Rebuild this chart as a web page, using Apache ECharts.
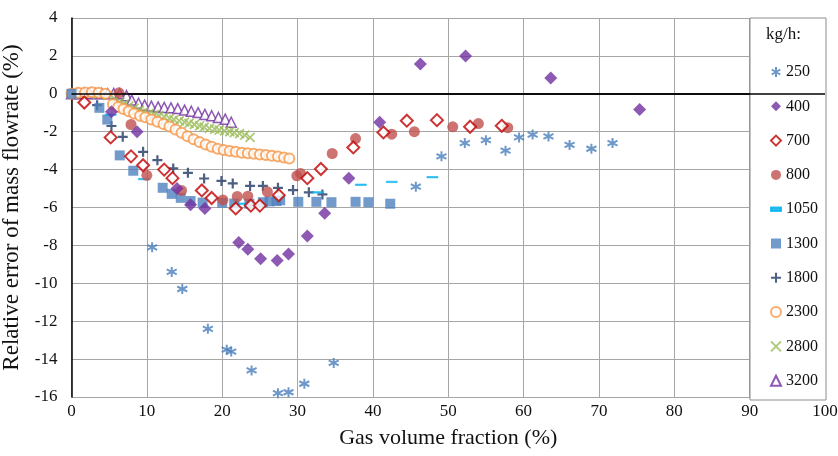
<!DOCTYPE html>
<html><head><meta charset="utf-8">
<script src="https://cdn.jsdelivr.net/npm/echarts@6/dist/echarts.min.js"></script>
<style>html,body{margin:0;padding:0;background:#fff}#c{width:838px;height:456px}</style>
</head><body><div id="c"></div>
<script>
const xTicks = [0,10,20,30,40,50,60,70,80,90,100];
const yTicks = [-16,-14,-12,-10,-8,-6,-4,-2,0,2,4];
const seriesNames = ['250','400','700','800','1050','1300','1800','2300','2800','3200'];

const x250 = [10.7,13.3,14.7,18.1,20.6,21.2,23.9,27.4,28.8,30.9,34.8,45.7,49.1,52.2,55.0,57.6,59.4,61.2,63.3,66.1,69.0,71.8];
const y250 = [-8.1,-9.4,-10.3,-12.4,-13.5,-13.6,-14.6,-15.8,-15.75,-15.3,-14.2,-4.9,-3.3,-2.6,-2.45,-3.0,-2.3,-2.15,-2.25,-2.7,-2.9,-2.6];

const x400 = [5.3,8.7,14.0,15.8,17.7,22.2,23.4,25.1,27.3,28.8,31.3,33.6,36.8,40.9,46.3,52.3,63.6,75.4];
const y400 = [-0.95,-2.0,-5.0,-5.85,-6.05,-7.85,-8.2,-8.7,-8.8,-8.45,-7.5,-6.3,-4.45,-1.5,1.57,2.0,0.83,-0.83];

const x700 = [1.7,5.2,7.9,9.5,12.3,13.4,17.3,18.6,21.8,23.8,25.0,27.5,31.3,33.1,37.4,41.4,44.5,48.5,52.9,57.1];
const y700 = [-0.46,-2.3,-3.3,-3.77,-4.0,-4.45,-5.1,-5.5,-6.05,-5.9,-5.9,-5.35,-4.45,-3.97,-2.83,-2.04,-1.42,-1.39,-1.74,-1.69];

const x800 = [6.3,7.9,10.0,14.6,20.1,22.0,23.4,26.0,29.9,30.4,34.6,37.7,42.5,45.5,50.6,54.0,57.9];
const y800 = [0.05,-1.62,-4.3,-5.1,-5.6,-5.42,-5.4,-5.17,-4.33,-4.2,-3.15,-2.36,-2.13,-2.0,-1.74,-1.57,-1.79];

const x1050 = [5.2,9.6,22.4,32.7,38.4,42.5,47.9];
const y1050 = [-1.1,-4.5,-5.8,-5.2,-4.8,-4.65,-4.4];

const x1300 = [0,3.7,4.75,6.4,8.2,12.1,13.3,14.5,15.8,17.4,20.0,21.6,23.6,25.4,26.3,27.2,27.7,30.1,32.5,34.5,37.7,39.4,42.3];
const y1300 = [0,-0.74,-1.36,-3.25,-4.06,-4.96,-5.28,-5.49,-5.66,-5.74,-5.75,-5.79,-5.8,-5.72,-5.68,-5.66,-5.62,-5.7,-5.7,-5.72,-5.7,-5.72,-5.8];

const x1800 = [3.4,5.3,6.8,9.5,11.4,13.5,15.45,17.6,19.9,21.4,23.7,25.4,27.4,29.4,31.5,33.3];
const y1800 = [-0.6,-1.7,-2.27,-3.06,-3.5,-3.94,-4.17,-4.47,-4.6,-4.73,-4.86,-4.86,-4.96,-5.08,-5.2,-5.31];

const x2300 = [0,0.9,1.8,2.7,3.6,4.5,5.5,6.2,6.9,7.6,8.3,9.1,9.8,10.6,11.4,12.2,13.0,13.8,14.6,15.4,16.2,17.0,17.8,18.6,19.4,20.2,21.0,21.8,22.6,23.4,24.2,25.0,25.8,26.6,27.4,28.2,28.9];
const y2300 = [0,0.05,0.07,0.08,0.06,0,-0.55,-0.7,-0.8,-0.92,-1.04,-1.16,-1.24,-1.35,-1.47,-1.6,-1.72,-1.88,-2.05,-2.24,-2.4,-2.55,-2.68,-2.8,-2.9,-2.97,-3.02,-3.06,-3.11,-3.14,-3.17,-3.2,-3.23,-3.27,-3.31,-3.36,-3.42];

const x2800 = [0,1.2,2.4,3.6,4.8,5.8,6.4,7.0,7.6,8.3,9.0,9.6,10.3,11.0,11.6,12.3,13.0,13.6,14.3,15.0,15.6,16.3,17.0,17.6,18.3,19.0,19.6,20.3,21.0,21.6,22.3,23.0,23.7];
const y2800 = [0,0,-0.02,0,-0.1,-0.3,-0.45,-0.55,-0.65,-0.75,-0.86,-0.95,-1.03,-1.1,-1.16,-1.22,-1.3,-1.36,-1.43,-1.5,-1.56,-1.62,-1.69,-1.76,-1.82,-1.87,-1.92,-1.96,-2.0,-2.05,-2.1,-2.18,-2.3];

const x3200 = [0,0.8,1.6,2.4,3.2,4.0,4.8,5.6,6.4,7.3,8.0,8.9,9.7,10.6,11.5,12.3,13.2,14.1,15.0,15.9,16.8,17.7,18.6,19.5,20.4,21.2];
const y3200 = [0,0,0.02,0.02,0,0.02,0,0.02,0,-0.1,-0.33,-0.5,-0.6,-0.65,-0.69,-0.72,-0.74,-0.78,-0.86,-0.92,-0.99,-1.09,-1.16,-1.25,-1.34,-1.5];

const zip = (xs, ys) => xs.map((v, i) => [v, ys[i]]);
const FONT = 'Liberation Serif';

const styles = {
  '250':  {symbol:'path://M5,0 L5,10 M0.7,2.5 L9.3,7.5 M0.7,7.5 L9.3,2.5', symbolSize:10, itemStyle:{color:'rgba(0,0,0,0)', borderColor:'#4a7ebb', borderWidth:2}},
  '400':  {symbol:'diamond', symbolSize:13, itemStyle:{color:'#7030a0'}},
  '700':  {symbol:'diamond', symbolSize:12, itemStyle:{color:'#fff', borderColor:'#c00000', borderWidth:2}},
  '800':  {symbol:'circle', symbolSize:11, itemStyle:{color:'#c0504d'}},
  '1050': {symbol:'path://M0,0 L10,0 L10,3.6 L0,3.6 Z', symbolSize:[11,4], symbolKeepAspect:true, itemStyle:{color:'#00b0f0', borderColor:'#00b0f0', borderWidth:0.6}},
  '1300': {symbol:'rect', symbolSize:10, itemStyle:{color:'#4f81bd'}},
  '1800': {symbol:'path://M5,0 L5,10 M0,5 L10,5', symbolSize:10, itemStyle:{color:'rgba(0,0,0,0)', borderColor:'#1f3864', borderWidth:2.2}},
  '2300': {symbol:'circle', symbolSize:10, itemStyle:{color:'#fff', borderColor:'#f79646', borderWidth:2}},
  '2800': {symbol:'path://M0,0 L10,10 M0,10 L10,0', symbolSize:9, itemStyle:{color:'rgba(0,0,0,0)', borderColor:'#9bbb59', borderWidth:1.8}},
  '3200': {symbol:'triangle', symbolSize:10, itemStyle:{color:'#fff', borderColor:'#7030a0', borderWidth:1.5}}
};
const dataMap = {
  '250': zip(x250,y250), '400': zip(x400,y400), '700': zip(x700,y700), '800': zip(x800,y800),
  '1050': zip(x1050,y1050), '1300': zip(x1300,y1300), '1800': zip(x1800,y1800),
  '2300': zip(x2300,y2300), '2800': zip(x2800,y2800), '3200': zip(x3200,y3200)
};

const drawOrder = ['3200','2800','2300','1800','1300','1050','800','700','400','250'];
const series = drawOrder.map((n) => Object.assign({
  name: n, type: 'scatter', data: dataMap[n], z: 2,
  emphasis: {disabled: true}
}, styles[n]));
series.push({
  name: 'zero', type: 'line', data: [], z: 1,
  markLine: {silent: true, symbol: 'none', label: {show: false},
    lineStyle: {color: '#000', width: 1.6, type: 'solid'},
    data: [{yAxis: 0}]}
});

const chart = echarts.init(document.getElementById('c'), null, {renderer: 'canvas'});
chart.setOption({
  animation: false,
  backgroundColor: '#fff',
  grid: {left: 71.5, right: 13, top: 18, bottom: 59, containLabel: false, outerBoundsMode: 'none'},
  xAxis: {
    type: 'value', min: xTicks[0], max: xTicks[xTicks.length-1], interval: 10,
    name: 'Gas volume fraction (%)', nameLocation: 'middle', nameGap: 30,
    nameTextStyle: {fontFamily: FONT, fontSize: 22, color: '#111'},
    axisLine: {lineStyle: {color: '#000', width: 1.5}},
    axisTick: {show: false},
    axisLabel: {fontFamily: FONT, fontSize: 17, color: '#111', margin: 6},
    splitLine: {show: true, lineStyle: {color: '#a6a6a6', width: 1}}
  },
  yAxis: {
    type: 'value', min: yTicks[0], max: yTicks[yTicks.length-1], interval: 2,
    name: 'Relative error of mass flowrate (%)', nameLocation: 'middle', nameGap: 42,
    nameTextStyle: {fontFamily: FONT, fontSize: 23, color: '#111'},
    axisLine: {show: true, onZero: false, lineStyle: {color: '#000', width: 1.5}},
    axisTick: {show: false},
    axisLabel: {fontFamily: FONT, fontSize: 17, color: '#111', margin: 14},
    splitLine: {show: true, lineStyle: {color: '#a6a6a6', width: 1}}
  },
  legend: {
    data: seriesNames, orient: 'vertical', left: 765, top: 59,
    itemWidth: 10, itemHeight: 10, itemGap: 18.3, z: 10,
    textStyle: {fontFamily: FONT, fontSize: 16, color: '#111', lineHeight: 16},
    selectedMode: false
  },
  graphic: [
    {type: 'rect', z: 5, shape: {x: 750, y: 18, width: 76, height: 382},
     style: {fill: '#fff', stroke: '#8c8c8c', lineWidth: 1}},
    {type: 'text', z: 10, left: 766, top: 26,
     style: {text: 'kg/h:', font: '17px "Liberation Serif"', fill: '#111'}}
  ],
  series: series
});
</script></body></html>
